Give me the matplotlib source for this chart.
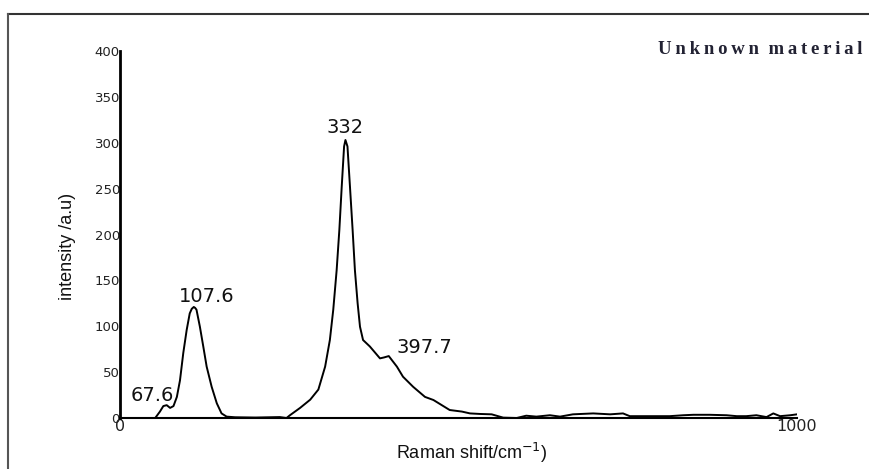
import matplotlib
matplotlib.use("Agg")
import matplotlib.pyplot as plt
from matplotlib.lines import Line2D

# Raman spectrum (Raman shift in cm^-1, intensity in a.u.)
shift = [52, 59, 64, 69, 74, 79, 84, 88.6, 93.5, 98.5, 103, 106, 109, 111, 113, 118, 123, 128,
         135.4, 143, 150, 157.5, 170, 200, 236, 246, 251, 266, 281, 293, 303, 310,
         315, 320, 324, 327.5, 331, 333, 336, 339.7, 343.6, 347, 351, 354.5, 359,
         369, 384, 390, 397, 409, 418, 433, 450.5, 463, 487, 505, 517, 532, 549, 566,
         586, 600, 615, 635, 650, 669, 699, 724, 743, 753, 778, 793, 812, 832, 847,
         871, 896, 911, 925, 940, 955, 965, 975, 990, 1000]
intensity = [0, 7, 13, 14, 11, 13, 23, 41, 71, 96, 114, 119, 121, 120, 118, 99.5, 78, 56,
             34, 16, 5, 1.5, 0.8, 0.5, 1, 0, 3, 11, 20, 31, 56, 85,
             118, 161, 205, 252, 296, 303, 296, 252, 205, 161, 125, 99.5, 85,
             78, 65, 66, 67.5, 56, 45, 34, 23, 19.6, 8.7, 7, 5, 4.4, 4, 0.4,
             0, 2.5, 1.5, 3, 1.5, 4, 5, 4, 5, 2, 2, 2, 2, 3, 3.5,
             3.5, 3, 2, 2, 3, 1, 5, 2, 3, 4]

peak_labels = ["67.6", "107.6", "332", "397.7"]
peak_label_x = [47, 128.5, 332, 450]
peak_label_y = [25, 132, 317, 77]

y_ticks = [0, 50, 100, 150, 200, 250, 300, 350, 400]
x_ticks = [0, 1000]

W, H = 869, 469
fig = plt.figure(figsize=(W / 100, H / 100), dpi=100)
fig.patch.set_facecolor("white")

ax = fig.add_axes([120 / W, (H - 418) / H, (797 - 120) / W, (418 - 51) / H])
ax.plot(shift, intensity, color="black", lw=1.4)
ax.set_xlim(0, 1000)
ax.set_ylim(0, 400)

for s in ["top", "right"]:
    ax.spines[s].set_visible(False)
ax.spines["left"].set_linewidth(2)
ax.spines["bottom"].set_linewidth(1.5)

ax.set_yticks(y_ticks)
ax.set_yticklabels([str(v) for v in y_ticks], fontsize=9.5, color="#222222",
                   family="DejaVu Sans")
ax.set_xticks(x_ticks)
ax.set_xticklabels([str(v) for v in x_ticks], fontsize=11.5, color="#222222",
                   family="DejaVu Sans")
ax.tick_params(axis="y", length=0, pad=0)
ax.tick_params(axis="x", length=0, pad=1)

for t, x, y in zip(peak_labels, peak_label_x, peak_label_y):
    ax.text(x, y, t, ha="center", va="center", fontsize=14, color="#111111",
            family="DejaVu Sans")

fig.text(68 / W, 1 - 246 / H, "intensity /a.u)", rotation=90, ha="center",
         va="center", fontsize=13, family="Liberation Sans", color="#111111")
fig.text(472 / W, 1 - 453 / H, r"Raman shift/cm$^{-1}$)", ha="center",
         va="center", fontsize=13, family="Liberation Sans", color="#111111")
title = "\u2009".join("Unknown") + "  " + "\u2009".join("material")
fig.text(863 / W, 1 - 50 / H, title,
         ha="right", va="center", fontsize=13.5, fontweight="bold",
         family="Liberation Serif", color="#222233")

# partial outer frame (top and left edges)
fig.add_artist(Line2D([8 / W, 1.0], [1 - 14 / H, 1 - 14 / H], transform=fig.transFigure,
                      color="#333333", lw=1.5))
fig.add_artist(Line2D([8 / W, 8 / W], [1 - 14 / H, 0], transform=fig.transFigure,
                      color="#555555", lw=1.5))

fig.savefig("out.png", dpi=100)
